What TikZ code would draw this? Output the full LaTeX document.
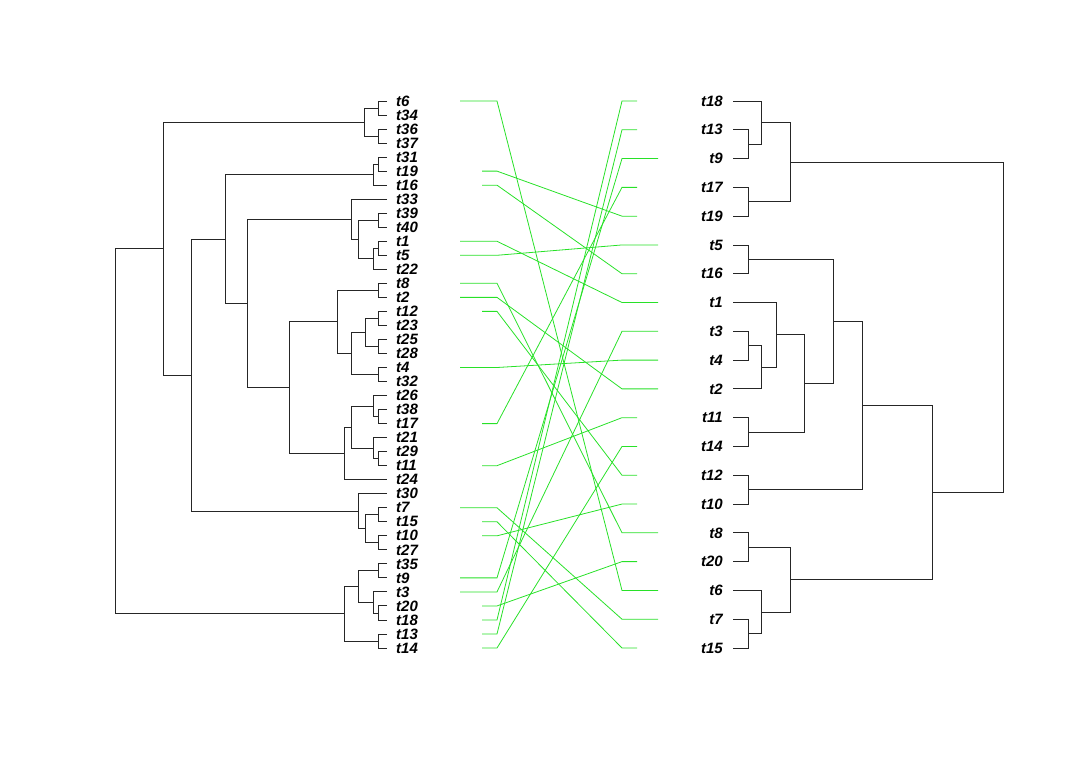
\documentclass[tikz,border=0pt]{standalone}
\usepackage{fontspec}
\setmainfont{Liberation Sans}
\usetikzlibrary{calc}

\definecolor{linkgreen}{RGB}{40,225,40}

\tikzset{
  branch/.style={draw=black!85,line width=0.9pt},
  link/.style={draw=linkgreen,line width=0.8pt},
  leaflab/.style={inner sep=0pt,font=\fontsize{15}{15}\selectfont\bfseries\itshape}
}

% join two children (#3,#4) at horizontal position #2, name the new branch point #1
\newcommand{\joinbranch}[4]{%
  \path let \p1=(#3), \p2=(#4) in coordinate (#1) at (#2pt,{(\y1+\y2)/2});
  \draw[branch] (#3) -- (#3 -| #1) -- (#4 -| #1) -- (#4);
}

\begin{document}
\begin{tikzpicture}[x=1pt,y=-1pt]
    \useasboundingbox (0,0) rectangle (1080,769);
    % leaves of the left tree
    \foreach \lab [count=\i from 0] in {t6,t34,t36,t37,t31,t19,t16,t33,t39,t40,t1,t5,t22,t8,t2,t12,t23,t25,t28,t4,t32,t26,t38,t17,t21,t29,t11,t24,t30,t7,t15,t10,t27,t35,t9,t3,t20,t18,t13,t14}{
        \coordinate (l-\lab) at (387,101+\i*14.026);
        \node[leaflab,anchor=west] (ll-\lab) at (396,101+\i*14.026) {\lab};
    }
    % leaves of the right tree
    \foreach \lab [count=\i from 0] in {t18,t13,t9,t17,t19,t5,t16,t1,t3,t4,t2,t11,t14,t12,t10,t8,t20,t6,t7,t15}{
        \coordinate (r-\lab) at (733,101+\i*28.789);
        \node[leaflab,anchor=east] (rl-\lab) at (723,101+\i*28.789) {\lab};
    }

    % left tree
    \joinbranch{a1}{378}{l-t6}{l-t34}
    \joinbranch{a2}{378}{l-t36}{l-t37}
    \joinbranch{a3}{364}{a1}{a2}
    \joinbranch{b1}{378}{l-t31}{l-t19}
    \joinbranch{b2}{373}{b1}{l-t16}
    \joinbranch{c1}{378}{l-t39}{l-t40}
    \joinbranch{c2}{378}{l-t1}{l-t5}
    \joinbranch{c3}{373}{c2}{l-t22}
    \joinbranch{c4}{358}{c1}{c3}
    \joinbranch{c5}{351}{l-t33}{c4}
    \joinbranch{d1}{378}{l-t8}{l-t2}
    \joinbranch{d2}{378}{l-t12}{l-t23}
    \joinbranch{d3}{378}{l-t25}{l-t28}
    \joinbranch{d4}{365}{d2}{d3}
    \joinbranch{d5}{378}{l-t4}{l-t32}
    \joinbranch{d6}{351}{d4}{d5}
    \joinbranch{d7}{337}{d1}{d6}
    \joinbranch{e1}{378}{l-t38}{l-t17}
    \joinbranch{e2}{373}{l-t26}{e1}
    \joinbranch{e3}{378}{l-t29}{l-t11}
    \joinbranch{e4}{373}{l-t21}{e3}
    \joinbranch{e5}{351}{e2}{e4}
    \joinbranch{e6}{344}{e5}{l-t24}
    \joinbranch{f1}{289}{d7}{e6}
    \joinbranch{f2}{247}{c5}{f1}
    \joinbranch{f3}{225}{b2}{f2}
    \joinbranch{g1}{378}{l-t7}{l-t15}
    \joinbranch{g2}{378}{l-t10}{l-t27}
    \joinbranch{g3}{365}{g1}{g2}
    \joinbranch{g4}{358}{l-t30}{g3}
    \joinbranch{h1}{191}{f3}{g4}
    \joinbranch{h2}{163}{a3}{h1}
    \joinbranch{k1}{378}{l-t35}{l-t9}
    \joinbranch{k2}{378}{l-t20}{l-t18}
    \joinbranch{k3}{373}{l-t3}{k2}
    \joinbranch{k4}{358}{k1}{k3}
    \joinbranch{k5}{378}{l-t13}{l-t14}
    \joinbranch{k6}{344}{k4}{k5}
    \joinbranch{lroot}{115}{h2}{k6}

    % right tree
    \joinbranch{p1}{748}{r-t13}{r-t9}
    \joinbranch{p2}{761}{r-t18}{p1}
    \joinbranch{p3}{748}{r-t17}{r-t19}
    \joinbranch{p4}{790}{p2}{p3}
    \joinbranch{q1}{748}{r-t5}{r-t16}
    \joinbranch{q2}{748}{r-t3}{r-t4}
    \joinbranch{q3}{761}{q2}{r-t2}
    \joinbranch{q4}{776}{r-t1}{q3}
    \joinbranch{q5}{748}{r-t11}{r-t14}
    \joinbranch{q6}{804}{q4}{q5}
    \joinbranch{q7}{833}{q1}{q6}
    \joinbranch{q8}{748}{r-t12}{r-t10}
    \joinbranch{q9}{862}{q7}{q8}
    \joinbranch{s1}{748}{r-t8}{r-t20}
    \joinbranch{s2}{748}{r-t7}{r-t15}
    \joinbranch{s3}{761}{r-t6}{s2}
    \joinbranch{s4}{790}{s1}{s3}
    \joinbranch{s5}{932}{q9}{s4}
    \joinbranch{rroot}{1003}{p4}{s5}

    % matching leaves
    \coordinate (kinkL) at (497,0);
    \coordinate (kinkR) at (622,0);
    \foreach \lab/\i/\j/\s in {t6/0/17/1,t19/5/4/2,t16/6/6/2,t1/10/7/1,t5/11/5/1,t8/13/15/1,t2/14/10/1,
        t12/15/13/2,t4/19/9/1,t17/23/3/2,t11/26/11/2,t7/29/18/1,t15/30/19/2,t10/31/14/2,
        t9/34/2/1,t3/35/8/1,t20/36/16/2,t18/37/0/2,t13/38/1/2,t14/39/12/2}{
        \pgfmathsetmacro\xa{\s==1 ? 460 : 482}
        \pgfmathsetmacro\xb{\s==1 ? 658 : 637}
        \coordinate (ga-\lab) at (\xa,101+\i*14.026);
        \coordinate (gb-\lab) at (\xb,101+\j*28.789);
        \draw[link] (ga-\lab) -- (ga-\lab -| kinkL) -- (gb-\lab -| kinkR) -- (gb-\lab);
    }
\end{tikzpicture}
\end{document}
